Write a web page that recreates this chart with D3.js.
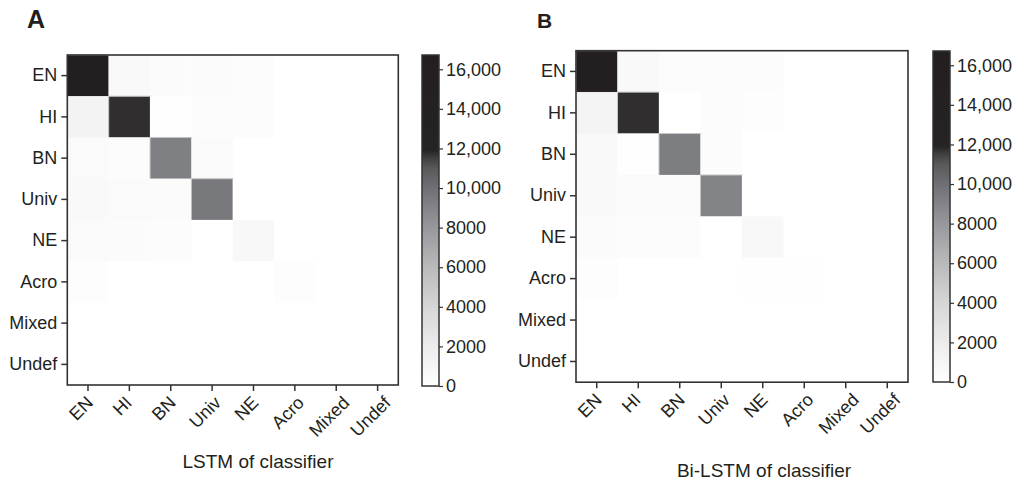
<!DOCTYPE html>
<html>
<head>
<meta charset="utf-8">
<script src="https://cdn.jsdelivr.net/npm/d3@7"></script>
<style>
  html, body { margin: 0; padding: 0; background: #fff; }
  svg { display: block; font-family: "Liberation Sans", Arial, Helvetica, sans-serif; }
</style>
</head>
<body>
<svg id="chart" width="1016" height="481"></svg>
<script>
// categories shared by both confusion matrices
var categories = ["EN", "HI", "BN", "Univ", "NE", "Acro", "Mixed", "Undef"];

// rows = true label, columns = predicted label (counts)
var lstmCounts = [
  [16720, 600, 400, 400, 300, 0, 0, 0],
  [1300, 11750, 100, 300, 300, 0, 0, 0],
  [500, 300, 9200, 500, 50, 0, 0, 0],
  [600, 500, 400, 9600, 0, 0, 0, 0],
  [500, 400, 300, 50, 700, 0, 0, 0],
  [200, 0, 0, 0, 0, 250, 0, 0],
  [0, 0, 0, 0, 0, 0, 0, 0],
  [0, 0, 0, 0, 0, 0, 0, 0]
];

var bilstmCounts = [
  [16720, 600, 300, 300, 300, 0, 0, 0],
  [1200, 11750, 0, 300, 250, 0, 0, 0],
  [600, 100, 9300, 300, 50, 0, 0, 0],
  [600, 500, 500, 9000, 0, 0, 0, 0],
  [400, 300, 300, 50, 700, 0, 0, 0],
  [200, 0, 0, 0, 150, 150, 0, 0],
  [0, 0, 0, 0, 0, 0, 0, 0],
  [0, 0, 0, 0, 0, 0, 0, 0]
];

var colorTicks = [0, 2000, 4000, 6000, 8000, 10000, 12000, 14000, 16000];
var colorMax = 16720;

// grey map: smooth ramp up to ~11,500, then a sharp step to near black
var colorStops = [0, 2000, 4000, 6000, 8000, 10000, 11000, 11500, 11900, colorMax];
var colorRange = ["#ffffff", "#ececed", "#d5d6d8", "#b9babc", "#97989b", "#6f7073", "#58595b", "#404042", "#262324", "#231f20"];

var color = d3.scaleLinear().domain(colorStops).range(colorRange).clamp(true);

var svg = d3.select("#chart");
var fmt = function(v) { return v >= 10000 ? d3.format(",")(v) : String(v); };

var panels = [
  { letter: "A", lx: 27, ly: 28, lsize: 25, data: lstmCounts,
    x: 67.3, y: 55, w: 331, h: 330,
    cb: { x: 422, y: 55, w: 17, h: 331 },
    title: "LSTM of classifier", tx: 258, ty: 468 },
  { letter: "B", lx: 537, ly: 27.5, lsize: 21, data: bilstmCounts,
    x: 576, y: 50.7, w: 332, h: 331.5,
    cb: { x: 933, y: 51, w: 17, h: 331 },
    title: "Bi-LSTM of classifier", tx: 764, ty: 477 }
];

var defs = svg.append("defs");

panels.forEach(function(p, pi) {
  var g = svg.append("g");

  var x = d3.scaleBand().domain(categories).range([p.x, p.x + p.w]);
  var y = d3.scaleBand().domain(categories).range([p.y, p.y + p.h]);

  var cells = [];
  p.data.forEach(function(row, i) {
    row.forEach(function(v, j) {
      cells.push({ r: categories[i], c: categories[j], v: v });
    });
  });

  g.selectAll("rect.cell")
    .data(cells)
    .enter()
    .append("rect")
    .attr("class", "cell")
    .attr("x", function(d) { return x(d.c); })
    .attr("y", function(d) { return y(d.r); })
    .attr("width", x.bandwidth() + 0.3)
    .attr("height", y.bandwidth() + 0.3)
    .attr("fill", function(d) { return color(d.v); })
    .attr("stroke", function(d) { return d.v > 5000 ? "#c4c4c6" : "none"; })
    .attr("stroke-width", 1);

  // frame
  g.append("rect")
    .attr("x", p.x).attr("y", p.y)
    .attr("width", p.w).attr("height", p.h)
    .attr("fill", "none")
    .attr("stroke", "#333")
    .attr("stroke-width", 1.6);

  // y axis
  var yAxis = g.append("g")
    .attr("transform", "translate(" + p.x + ",0)")
    .call(d3.axisLeft(y).tickSize(6).tickPadding(4));
  yAxis.select(".domain").remove();
  yAxis.selectAll(".tick line").attr("stroke", "#333").attr("stroke-width", 1.5);
  yAxis.selectAll(".tick text")
    .attr("font-size", 18)
    .attr("fill", "#231f20")
    .attr("font-family", "Liberation Sans, Arial, sans-serif");

  // x axis, labels rotated 45 degrees and centred under the tick
  var xAxis = g.append("g")
    .attr("transform", "translate(0," + (p.y + p.h) + ")")
    .call(d3.axisBottom(x).tickSize(6).tickPadding(4));
  xAxis.select(".domain").remove();
  xAxis.selectAll(".tick line").attr("stroke", "#333").attr("stroke-width", 1.5);
  xAxis.selectAll(".tick text")
    .attr("font-size", 18)
    .attr("fill", "#231f20")
    .attr("font-family", "Liberation Sans, Arial, sans-serif")
    .attr("x", 0).attr("y", 0).attr("dy", null)
    .attr("text-anchor", "middle")
    .attr("dominant-baseline", "central")
    .attr("transform", function() {
      var len = this.getComputedTextLength();
      var half = (len + 13) * Math.SQRT1_2 / 2;
      return "translate(-7," + (10 + half) + ") rotate(-45)";
    });

  // axis title
  svg.append("text")
    .attr("x", p.tx).attr("y", p.ty)
    .attr("text-anchor", "middle")
    .attr("font-size", 19)
    .attr("fill", "#231f20")
    .text(p.title);

  // panel letter
  svg.append("text")
    .attr("x", p.lx).attr("y", p.ly)
    .attr("font-size", p.lsize)
    .attr("font-weight", "bold")
    .attr("fill", "#231f20")
    .text(p.letter);

  // colour bar
  var gradId = "grad" + pi;
  var grad = defs.append("linearGradient")
    .attr("id", gradId)
    .attr("x1", 0).attr("y1", 1).attr("x2", 0).attr("y2", 0);
  grad.selectAll("stop")
    .data(colorStops)
    .enter()
    .append("stop")
    .attr("offset", function(d) { return d / colorMax; })
    .attr("stop-color", function(d) { return color(d); });

  var cbScale = d3.scaleLinear().domain([0, colorMax]).range([p.cb.y + p.cb.h, p.cb.y]);

  svg.append("rect")
    .attr("x", p.cb.x).attr("y", p.cb.y)
    .attr("width", p.cb.w).attr("height", p.cb.h)
    .attr("fill", "url(#" + gradId + ")")
    .attr("stroke", "#333")
    .attr("stroke-width", 1.5);

  var cbAxis = svg.append("g")
    .attr("transform", "translate(" + (p.cb.x + p.cb.w) + ",0)")
    .call(d3.axisRight(cbScale).tickValues(colorTicks).tickFormat(fmt).tickSize(4).tickPadding(3));
  cbAxis.select(".domain").remove();
  cbAxis.selectAll(".tick line").attr("stroke", "#333").attr("stroke-width", 1.2);
  cbAxis.selectAll(".tick text")
    .attr("font-size", 18)
    .attr("fill", "#231f20")
    .attr("font-family", "Liberation Sans, Arial, sans-serif");
});
</script>
</body>
</html>
